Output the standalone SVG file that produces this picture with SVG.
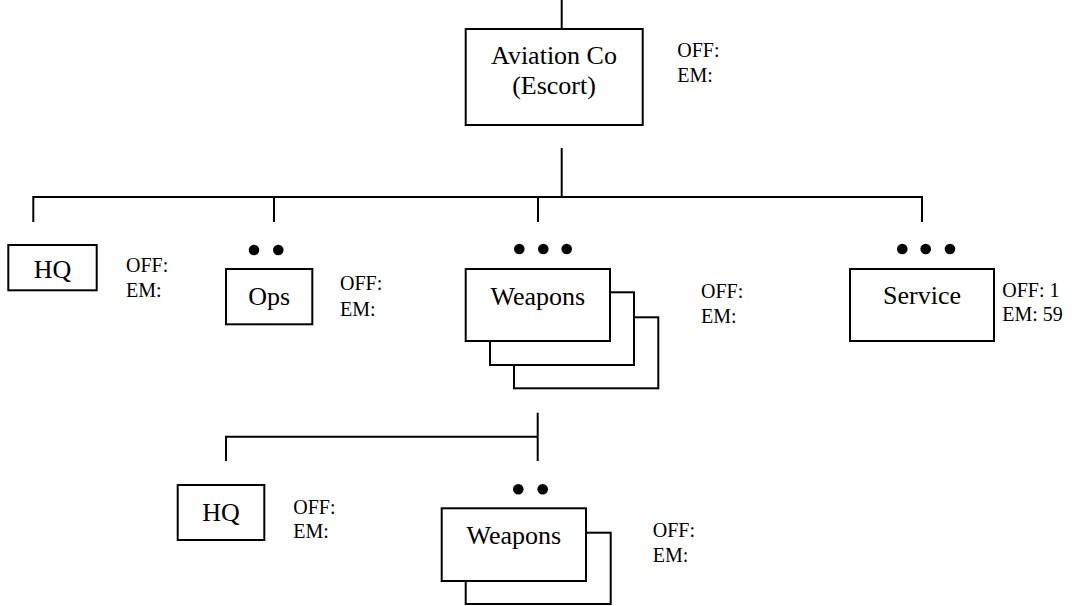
<svg xmlns="http://www.w3.org/2000/svg" width="1079" height="606" viewBox="0 0 1079 606">
<style>
.box{fill:#fff;stroke:#000;stroke-width:2}
.ln{stroke:#000;stroke-width:2;fill:none}
.lbl{font-size:26px;fill:#000;text-anchor:middle}
.cnt{font-size:20px;fill:#000}
.dot{fill:#000}
</style>
<rect width="1079" height="606" fill="#fff"/>
<g id="connectors">
<path class="ln" d="M561.7 0V29"/>
<path class="ln" d="M561.7 148V197"/>
<path class="ln" d="M33.3 222V197H922V222"/>
<path class="ln" d="M274 197V222"/>
<path class="ln" d="M538 197V222"/>
<path class="ln" d="M537.7 412.7V461"/>
<path class="ln" d="M226 461V436.7H537.7"/>
</g>
<g font-family="Liberation Serif, Times New Roman, serif">
<g id="aviation">
<rect class="box" x="465.7" y="29" width="177" height="96"/>
<text class="lbl" x="554" y="64">Aviation Co</text>
<text class="lbl" x="554" y="94.3">(Escort)</text>
<text class="cnt" x="677.3" y="57.3">OFF:</text>
<text class="cnt" x="677.3" y="82.3">EM:</text>
</g>
<g id="hq1">
<rect class="box" x="8.3" y="245" width="88.4" height="45.3"/>
<text class="lbl" x="52.5" y="278.3">HQ</text>
<text class="cnt" x="126" y="272.3">OFF:</text>
<text class="cnt" x="126" y="297.3">EM:</text>
</g>
<g id="ops">
<circle class="dot" cx="254" cy="250" r="5.3"/>
<circle class="dot" cx="278.3" cy="250" r="5.3"/>
<rect class="box" x="226" y="269" width="86.3" height="55.3"/>
<text class="lbl" x="269.2" y="305">Ops</text>
<text class="cnt" x="340" y="290">OFF:</text>
<text class="cnt" x="340" y="316">EM:</text>
</g>
<g id="weapons1">
<circle class="dot" cx="519.3" cy="249" r="5.3"/>
<circle class="dot" cx="543.3" cy="249" r="5.3"/>
<circle class="dot" cx="566.7" cy="249" r="5.3"/>
<rect class="box" x="514" y="317.3" width="144.3" height="71"/>
<rect class="box" x="490" y="292.3" width="144" height="72.7"/>
<rect class="box" x="465.7" y="269" width="144.3" height="72"/>
<text class="lbl" x="537.8" y="305">Weapons</text>
<text class="cnt" x="701" y="298.3">OFF:</text>
<text class="cnt" x="701" y="323.3">EM:</text>
</g>
<g id="service">
<circle class="dot" cx="902.3" cy="249" r="5.3"/>
<circle class="dot" cx="925.7" cy="249" r="5.3"/>
<circle class="dot" cx="950" cy="249" r="5.3"/>
<rect class="box" x="850" y="269" width="144" height="72"/>
<text class="lbl" x="922" y="304">Service</text>
<text class="cnt" x="1002.3" y="296.7">OFF: 1</text>
<text class="cnt" x="1002.3" y="321">EM: 59</text>
</g>
<g id="hq2">
<rect class="box" x="177.7" y="485" width="86.6" height="55"/>
<text class="lbl" x="221" y="520.7">HQ</text>
<text class="cnt" x="293.3" y="514.3">OFF:</text>
<text class="cnt" x="293.3" y="538.3">EM:</text>
</g>
<g id="weapons2">
<circle class="dot" cx="518.3" cy="489.3" r="5.3"/>
<circle class="dot" cx="542.7" cy="489.3" r="5.3"/>
<rect class="box" x="465.7" y="532.7" width="145" height="71.3"/>
<rect class="box" x="441.7" y="508.3" width="144.3" height="72.7"/>
<text class="lbl" x="513.8" y="544">Weapons</text>
<text class="cnt" x="652.7" y="536.7">OFF:</text>
<text class="cnt" x="652.7" y="561.7">EM:</text>
</g>
</g>
</svg>
